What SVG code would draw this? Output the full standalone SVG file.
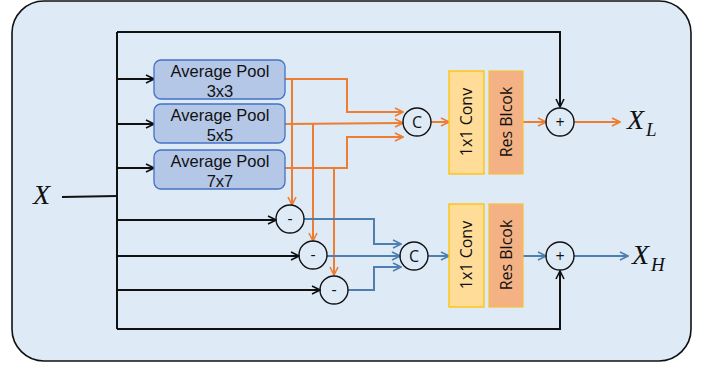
<svg xmlns="http://www.w3.org/2000/svg" width="709" height="368" viewBox="0 0 709 368">
<defs>
<marker id="ab" viewBox="0 0 10 10" refX="9" refY="5" markerWidth="10" markerHeight="10" markerUnits="userSpaceOnUse" orient="auto"><path d="M1,1 L9,5 L1,9" fill="none" stroke="#111" stroke-width="1.6"/></marker>
<marker id="ao" viewBox="0 0 10 10" refX="9" refY="5" markerWidth="10" markerHeight="10" markerUnits="userSpaceOnUse" orient="auto"><path d="M1,1 L9,5 L1,9" fill="none" stroke="#ed7d31" stroke-width="1.6"/></marker>
<marker id="au" viewBox="0 0 10 10" refX="9" refY="5" markerWidth="10" markerHeight="10" markerUnits="userSpaceOnUse" orient="auto"><path d="M1,1 L9,5 L1,9" fill="none" stroke="#4f7fb0" stroke-width="1.6"/></marker>
<style>
.bk{fill:none;stroke:#111;stroke-width:2}
.or{fill:none;stroke:#ed7d31;stroke-width:2}
.bl{fill:none;stroke:#4f7fb0;stroke-width:2}
.pool{fill:#b4c7e7;stroke:#4472c4;stroke-width:1.3}
.conv{fill:#ffdd99;stroke:#ffc000;stroke-width:1.3}
.res{fill:#f4b183;stroke:#f7c143;stroke-width:1.3}
.op{fill:none;stroke:#111;stroke-width:1.4}
.t{font-family:"Open Sans","Liberation Sans",sans-serif;font-size:16px;fill:#111;text-anchor:middle}
.p{font-family:"Liberation Sans",Arial,sans-serif;font-size:16.5px;fill:#111;text-anchor:middle}
.m{font-family:"Liberation Serif",serif;font-style:italic;fill:#111}
</style>
</defs>
<rect x="12" y="1" width="679" height="360" rx="32" fill="#deebf7" stroke="#111" stroke-width="1.6"/>
<g id="connectors">
<path class="bk" d="M62,197 L117,196"/>
<path class="bk" d="M117,32 L117,329"/>
<path class="bk" d="M117,32 L560,32 L560,107" marker-end="url(#ab)"/>
<path class="bk" d="M117,329 L560,329 L560,271" marker-end="url(#ab)"/>
<path class="bk" d="M117,79 L154,79" marker-end="url(#ab)"/>
<path class="bk" d="M117,124 L154,124" marker-end="url(#ab)"/>
<path class="bk" d="M117,168 L154,168" marker-end="url(#ab)"/>
<path class="bk" d="M117,220 L276,220" marker-end="url(#ab)"/>
<path class="bk" d="M117,256 L299,256" marker-end="url(#ab)"/>
<path class="bk" d="M117,290 L320,290" marker-end="url(#ab)"/>
<path class="or" d="M285,79 L347,79 L347,112 L403,112" marker-end="url(#ao)"/>
<path class="or" d="M285,124 L403,123" marker-end="url(#ao)"/>
<path class="or" d="M285,168 L347,168 L347,137 L403,137" marker-end="url(#ao)"/>
<path class="or" d="M292,79 L292,205" marker-end="url(#ao)"/>
<path class="or" d="M313,124 L313,241" marker-end="url(#ao)"/>
<path class="or" d="M334,168 L334,275" marker-end="url(#ao)"/>
<path class="or" d="M431,122 L449,122" marker-end="url(#ao)"/>
<path class="or" d="M523,122 L546,122" marker-end="url(#ao)"/>
<path class="or" d="M574,122 L620,122" marker-end="url(#ao)"/>
<path class="bl" d="M304,219 L374,219 L374,244 L401,244" marker-end="url(#au)"/>
<path class="bl" d="M327,256 L400,256" marker-end="url(#au)"/>
<path class="bl" d="M348,290 L374,290 L374,267 L401,267" marker-end="url(#au)"/>
<path class="bl" d="M428,256 L449,256" marker-end="url(#au)"/>
<path class="bl" d="M523,256 L546,256" marker-end="url(#au)"/>
<path class="bl" d="M574,256 L628,256" marker-end="url(#au)"/>
</g>
<g id="pool3"><rect class="pool" x="154" y="60" width="131" height="39" rx="7"/><text class="p" x="220" y="77">Average Pool</text><text class="p" x="220" y="96.5">3x3</text></g>
<g id="pool5"><rect class="pool" x="154" y="104" width="131" height="39" rx="7"/><text class="p" x="220" y="121">Average Pool</text><text class="p" x="220" y="140.5">5x5</text></g>
<g id="pool7"><rect class="pool" x="154" y="150" width="131" height="39" rx="7"/><text class="p" x="220" y="167">Average Pool</text><text class="p" x="220" y="186.5">7x7</text></g>
<g id="concatL"><circle class="op" cx="417" cy="122" r="14"/><text class="t" x="417" y="128">C</text></g>
<g id="concatH"><circle class="op" cx="414" cy="256" r="14"/><text class="t" x="414" y="262">C</text></g>
<g id="sub1"><circle class="op" cx="290" cy="219" r="14"/><text class="t" x="290" y="224">-</text></g>
<g id="sub2"><circle class="op" cx="313" cy="255" r="14"/><text class="t" x="313" y="260">-</text></g>
<g id="sub3"><circle class="op" cx="334" cy="290" r="14"/><text class="t" x="334" y="295">-</text></g>
<g id="convL"><rect class="conv" x="449" y="71" width="35" height="103"/><text class="t" transform="translate(472,122) rotate(-90)">1x1 Conv</text></g>
<g id="resL"><rect class="res" x="489" y="71" width="34" height="103"/><text class="t" transform="translate(512,122) rotate(-90)">Res Blcok</text></g>
<g id="convH"><rect class="conv" x="449" y="204" width="35" height="103"/><text class="t" transform="translate(472,255) rotate(-90)">1x1 Conv</text></g>
<g id="resH"><rect class="res" x="489" y="204" width="34" height="103"/><text class="t" transform="translate(512,255) rotate(-90)">Res Blcok</text></g>
<g id="addL"><circle class="op" cx="560" cy="122" r="14"/><text class="t" x="560" y="128">+</text></g>
<g id="addH"><circle class="op" cx="560" cy="256" r="14"/><text class="t" x="560" y="262">+</text></g>
<g id="inX"><text class="m" x="33" y="204" font-size="28">X</text></g>
<g id="outL"><text class="m" x="627" y="129" font-size="28">X</text><text class="m" x="646" y="136" font-size="19">L</text></g>
<g id="outH"><text class="m" x="632" y="264" font-size="28">X</text><text class="m" x="651" y="271" font-size="19">H</text></g>
</svg>
